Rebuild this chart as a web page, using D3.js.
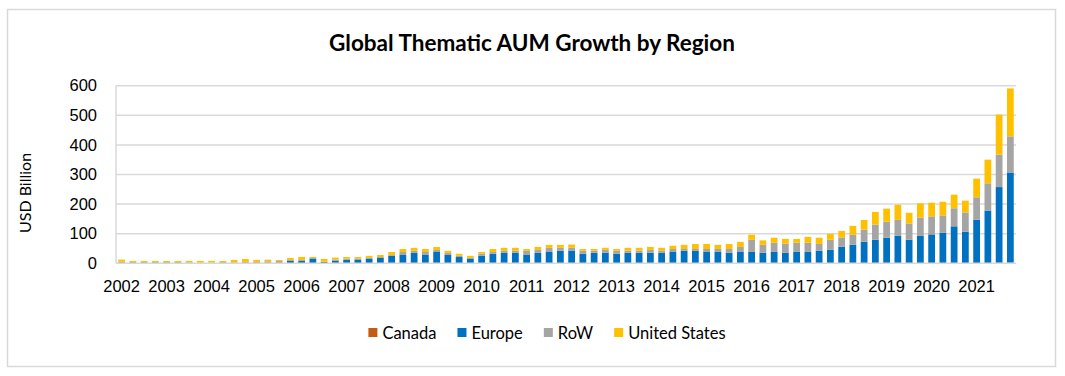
<!DOCTYPE html>
<html lang="en">
<head>
  <meta charset="UTF-8">
  <title>Global Thematic AUM Growth by Region</title>
  <style>
    body { margin: 0; background: #fff; }
    svg { font-family: Lato, "Open Sans", sans-serif; }
    .grid line { stroke: #d9d9d9; stroke-width: 1.5px; }
    .axis text { fill: #000; font-size: 16.5px; }
    .legend text { font-size: 16.5px; fill: #000; }
  </style>
</head>
<body>
  <script src="https://cdn.jsdelivr.net/npm/d3@7/dist/d3.min.js"></script>
  <script>
    const width = 1065, height = 376;
    const years = d3.range(2002, 2022);
    const quarters = years.flatMap(y => ['Q1', 'Q2', 'Q3', 'Q4'].map(q => y + ' ' + q));

    // USD billion (quarterly, 2002 Q1 .. 2021 Q4)
    const canada = [
      0.1, 0.1, 0.1, 0.1, 0.1, 0.1, 0.1, 0.1, 0.1, 0.1, 0.1, 0.1, 0.1, 0.1, 0.1, 0.1, 0.1, 0.1, 0.1, 0.1,
      0.2, 0.2, 0.2, 0.2, 0.2, 0.2, 0.2, 0.2, 0.2, 0.2, 0.2, 0.2, 0.2, 0.2, 0.2, 0.2, 0.2, 0.2, 0.2, 0.2,
      0.3, 0.3, 0.3, 0.3, 0.3, 0.3, 0.3, 0.3, 0.3, 0.3, 0.3, 0.3, 0.3, 0.3, 0.3, 0.3, 0.4, 0.4, 0.4, 0.4,
      0.4, 0.4, 0.4, 0.5, 0.5, 0.5, 0.6, 0.6, 0.7, 0.7, 0.6, 0.7, 0.7, 0.8, 0.9, 0.8, 1.0, 1.2, 1.5, 1.8
    ];
    const europe = [
      0, 0, 0, 0, 0, 0, 0, 0, 0, 0, 0, 0, 0, 1, 0.5, 7.9, 7.9, 14.6, 4.5, 7.9,
      12, 11, 16, 18, 25, 28, 35, 28, 38, 28, 21, 16, 25, 32, 35, 35, 28, 35, 38, 42,
      43, 32, 35, 35, 32, 35, 35, 35, 35, 38, 42, 42, 38, 38, 35, 38, 38, 35, 38, 35,
      38, 38, 42, 45, 55, 62, 72, 79, 86, 93, 79, 93, 97, 102, 124, 106, 146, 177, 256, 305
    ];
    const row = [
      5.6, 4.5, 4.5, 4.5, 4.5, 4.5, 3.4, 1.5, 2.3, 4.5, 3.4, 4.5, 4.5, 5.6, 7, 3.4, 3.4, 3.4, 1.1, 4.5,
      3, 5, 2, 3, 3, 10, 7, 10, 7, 7, 4, 2, 7, 6, 7, 7, 14, 10, 14, 10,
      9, 10, 7, 10, 10, 7, 7, 10, 7, 10, 6, 6, 10, 10, 13, 17, 41, 27, 31, 31,
      31, 31, 23, 34, 32, 34, 41, 51, 54, 53, 55, 61, 61, 59, 61, 65, 76, 92, 110, 122
    ];
    const unitedStates = [
      6.8, 3.4, 3.4, 3.4, 3.4, 3.4, 4.5, 6.5, 5.6, 3.4, 7.9, 10, 6.8, 5.6, 3.4, 6.8, 10.1, 3.4, 9, 6.8,
      6, 5, 7, 7, 10, 10, 10, 10, 10, 7, 7, 7, 6, 10, 10, 10, 6, 10, 10, 10,
      11, 6, 6, 7, 6, 10, 10, 10, 10, 11, 14, 17, 17, 14, 17, 17, 17, 15, 17, 16,
      13, 20, 21, 20, 22, 30, 33, 43, 44, 51, 36, 48, 46, 46, 46, 40, 63, 80, 135, 162
    ];
    const yTicks = [0, 100, 200, 300, 400, 500, 600];

    const seriesNames = ['Canada', 'Europe', 'RoW', 'United States'];
    const colors = ['#C55A11', '#0070C0', '#A5A5A5', '#FFC000'];
    const rows = quarters.map((q, i) => ({
      q, Canada: canada[i], Europe: europe[i], RoW: row[i], 'United States': unitedStates[i]
    }));

    const plot = {left: 116, right: 1016, top: 85.7, bottom: 263.3};
    const x = d3.scaleBand().domain(quarters).range([plot.left, plot.right]).paddingInner(0.4).paddingOuter(0.2);
    const y = d3.scaleLinear().domain([0, 600]).range([plot.bottom, plot.top]);

    const svg = d3.select('body').append('svg').attr('width', width).attr('height', height);

    svg.append('rect')
      .attr('x', 7.5).attr('y', 9.5).attr('width', 1048).attr('height', 357)
      .attr('fill', '#fff').attr('stroke', '#d9d9d9').attr('stroke-width', 1.5);

    svg.append('text')
      .attr('x', 532).attr('y', 51)
      .attr('text-anchor', 'middle')
      .attr('font-size', 22.5).attr('font-weight', 'bold')
      .text('Global Thematic AUM Growth by Region');

    // gridlines
    svg.append('g').attr('class', 'grid')
      .selectAll('line').data(yTicks.slice(1)).enter().append('line')
      .attr('x1', plot.left).attr('x2', plot.right)
      .attr('y1', d => y(d)).attr('y2', d => y(d));

    // stacked bars
    const stack = d3.stack().keys(seriesNames)(rows);
    svg.append('g').selectAll('g')
      .data(stack).enter().append('g')
      .attr('fill', (d, i) => colors[i])
      .selectAll('rect')
      .data(d => d).enter().append('rect')
      .attr('x', d => x(d.data.q))
      .attr('width', x.bandwidth())
      .attr('y', d => y(d[1]))
      .attr('height', d => Math.max(0, y(d[0]) - y(d[1])));

    // axes
    svg.append('line')
      .attr('x1', plot.left).attr('x2', plot.right)
      .attr('y1', plot.bottom).attr('y2', plot.bottom)
      .attr('stroke', '#d9d9d9').attr('stroke-width', 1.5);
    svg.append('line')
      .attr('x1', plot.left).attr('x2', plot.left)
      .attr('y1', plot.top).attr('y2', plot.bottom)
      .attr('stroke', '#d9d9d9').attr('stroke-width', 1.5);

    const yAxis = svg.append('g').attr('class', 'axis')
      .attr('transform', `translate(${plot.left},0)`)
      .call(d3.axisLeft(y).tickValues(yTicks).tickSize(0).tickPadding(19));
    yAxis.select('.domain').remove();

    const xAxis = svg.append('g').attr('class', 'axis')
      .attr('transform', `translate(0,${plot.bottom})`)
      .call(d3.axisBottom(x)
        .tickValues(quarters.filter(q => q.endsWith('Q1')))
        .tickFormat(q => q.slice(0, 4))
        .tickSize(0).tickPadding(17));
    xAxis.select('.domain').remove();

    svg.append('text')
      .attr('transform', 'translate(31,193) rotate(-90)')
      .attr('text-anchor', 'middle')
      .attr('font-size', 16)
      .text('USD Billion');

    // legend
    const legend = svg.append('g').attr('class', 'legend');
    let lx = 0;
    seriesNames.forEach((name, i) => {
      const item = legend.append('g').attr('transform', `translate(${lx},0)`);
      item.append('rect').attr('x', 0).attr('y', -5).attr('width', 9).attr('height', 9).attr('fill', colors[i]);
      const t = item.append('text').attr('x', 14).attr('y', 0).attr('dy', '0.35em').text(name);
      lx += 14 + t.node().getComputedTextLength() + 21;
    });
    const legendWidth = lx - 21;
    legend.attr('transform', `translate(${547 - legendWidth / 2},333)`);
  </script>
</body>
</html>
